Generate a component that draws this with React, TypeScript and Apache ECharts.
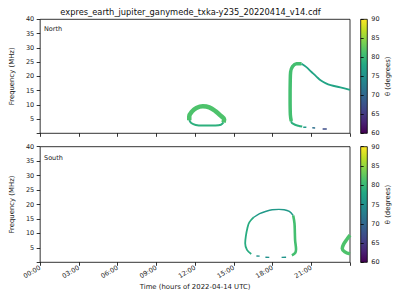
import React, { useEffect, useRef } from 'react';
import * as echarts from 'echarts';

const TITLE = 'expres_earth_jupiter_ganymede_txka-y235_20220414_v14.cdf';
const timeTickLabels = ['00:00', '03:00', '06:00', '09:00', '12:00', '15:00', '18:00', '21:00'];
const panelNames = ['North', 'South'];
const thetaMin = 60;
const thetaMax = 90;

// ---- North panel: [hour, MHz] ----
const northLoopUpper = [[11.55, 4.6], [11.55, 6.0], [11.75, 7.6], [12.1, 8.9], [12.6, 9.5], [13.1, 9.1], [13.6, 7.7], [14.0, 6.1], [14.25, 4.9], [14.2, 3.8]];
const northLoopLower = [[14.2, 3.8], [14.0, 3.0], [13.5, 2.75], [12.6, 2.7], [12.05, 2.9], [11.7, 3.6], [11.55, 4.6]];
const northArcRise = [[19.45, 4.3], [19.38, 6.5], [19.36, 12], [19.37, 18], [19.4, 21.5], [19.55, 23.4], [19.85, 24.4], [20.25, 24.4]];
const northArcFall = [[20.25, 24.4], [20.6, 23.3], [21.0, 21.6], [21.4, 19.9], [21.75, 18.5], [22.1, 17.6], [22.5, 16.9], [23.25, 16.1], [24.0, 15.2]];
const northArcFoot = [[19.45, 4.3], [19.5, 3.6], [19.75, 3.0], [20.0, 2.65], [20.3, 2.35]];
const northDashA = [[20.38, 2.15], [20.62, 2.1]];
const northDashB = [[21.08, 1.95], [21.3, 1.9]];
const northDashC = [[21.88, 1.5], [22.2, 1.5]];
const northTheta = [81.5, 79, 81, 77.5, 79, 76, 71, 67];

// ---- South panel: [hour, MHz] ----
const southLoopLeft = [[16.35, 2.9], [16.02, 4.3], [15.88, 6.6], [15.93, 9.0], [16.05, 11.8], [16.2, 13.8], [16.55, 15.6]];
const southLoopTop = [[16.55, 15.6], [17.0, 16.8], [17.4, 17.5], [17.97, 18.2], [18.5, 18.3], [18.9, 18.2], [19.3, 17.6], [19.6, 16.2]];
const southLoopRight = [[19.6, 16.2], [19.7, 13.5], [19.73, 10], [19.75, 7.5], [19.82, 4.5], [19.75, 3.2], [19.5, 2.4]];
const southDashA = [[16.75, 2.2], [17.0, 2.15]];
const southDashB = [[17.45, 1.75], [17.75, 1.7]];
const southDashC = [[18.7, 1.7], [19.05, 1.75]];
const southWedge = [[24.0, 9.4], [23.75, 7.9], [23.5, 6.2], [23.4, 4.8], [23.6, 3.6], [24.0, 2.9]];
const southTheta = [78.5, 76, 81, 75, 75, 75.5, 81.5];

const VIRIDIS = ['#440154', '#482475', '#414487', '#355f8d', '#2a788e', '#21918c', '#22a884', '#44bf70', '#7ad151', '#bddf26', '#fde725'];

function hexToRgb(h: string) {
  const n = parseInt(h.slice(1), 16);
  return [(n >> 16) & 255, (n >> 8) & 255, n & 255];
}
function viridis(v: number) {
  let t = (v - thetaMin) / (thetaMax - thetaMin);
  t = Math.max(0, Math.min(1, t));
  const p = t * (VIRIDIS.length - 1);
  const i = Math.min(VIRIDIS.length - 2, Math.floor(p));
  const f = p - i;
  const a = hexToRgb(VIRIDIS[i]);
  const b = hexToRgb(VIRIDIS[i + 1]);
  const c = a.map((x, k) => Math.round(x + (b[k] - x) * f));
  return `rgb(${c[0]},${c[1]},${c[2]})`;
}

const FONT = 'DejaVu Sans';
const TXT = '#222';

export default function App() {
  const ref = useRef<HTMLDivElement>(null);
  useEffect(() => {
    if (!ref.current) return;
    const chart = echarts.init(ref.current, undefined, { renderer: 'svg' });

    const northSegs = [northLoopUpper, northLoopLower, northArcRise, northArcFall, northArcFoot, northDashA, northDashB, northDashC];
    const northWidths = [4.5, 2, 3.5, 1.8, 2, 1.5, 1.5, 1.5];
    const southSegs = [southLoopLeft, southLoopTop, southLoopRight, southDashA, southDashB, southDashC, southWedge];
    const southWidths = [1.8, 1.4, 2.6, 1.4, 1.4, 1.4, 3.5];

    const mk = (data: number[][], theta: number, width: number, panel: number, smooth: number) => ({
      type: 'line',
      xAxisIndex: panel,
      yAxisIndex: panel,
      data,
      showSymbol: false,
      smooth,
      silent: true,
      lineStyle: { color: viridis(theta), width, cap: 'butt', join: 'round' },
    });

    const series: any[] = [];
    northSegs.forEach((d, i) => series.push(mk(d, northTheta[i], northWidths[i], 0, d.length > 2 ? 0.35 : 0)));
    southSegs.forEach((d, i) => series.push(mk(d, southTheta[i], southWidths[i], 1, d.length > 2 ? 0.35 : 0)));

    const plotGrids = [
      { left: 31.7, top: 19.3, width: 318.3, height: 114 },
      { left: 31.7, top: 146.7, width: 318.3, height: 115.6 },
    ];
    const cbGrids = [
      { left: 360.7, top: 19.3, width: 6.6, height: 114 },
      { left: 360.7, top: 146.7, width: 6.6, height: 115.6 },
    ];

    const tickStyle = { show: true, inside: false, length: 3.5, lineStyle: { color: '#000', width: 0.8 } };
    const labelFont = { fontFamily: FONT, fontSize: 6.5, color: TXT };

    const xAxes: any[] = plotGrids.map((_, i) => ({
      type: 'value',
      gridIndex: i,
      min: 0,
      max: 24,
      interval: 3,
      axisLine: { show: false },
      axisTick: tickStyle,
      splitLine: { show: false },
      axisLabel: {
        show: i === 1,
        ...labelFont,
        rotate: 30,
        margin: 5,
        formatter: (v: number) => timeTickLabels[Math.round(v / 3)] ?? '',
      },
      name: i === 1 ? 'Time (hours of 2022-04-14 UTC)' : '',
      nameLocation: 'middle',
      nameGap: 21,
      nameTextStyle: { fontFamily: FONT, fontSize: 6.9, color: TXT },
    }));
    cbGrids.forEach((_, i) => xAxes.push({ type: 'value', gridIndex: 2 + i, min: 0, max: 1, show: false }));

    const yAxes: any[] = plotGrids.map((_, i) => ({
      type: 'value',
      gridIndex: i,
      min: 0,
      max: 40,
      interval: 5,
      axisLine: { show: false },
      axisTick: tickStyle,
      splitLine: { show: false },
      axisLabel: { ...labelFont, margin: 6, formatter: (v: number) => (v === 0 ? '' : String(v)) },
      name: 'Frequency (MHz)',
      nameLocation: 'middle',
      nameGap: 18,
      nameRotate: 90,
      nameTextStyle: { fontFamily: FONT, fontSize: 6.9, color: TXT },
    }));
    cbGrids.forEach((_, i) =>
      yAxes.push({
        type: 'value',
        gridIndex: 2 + i,
        position: 'right',
        min: thetaMin,
        max: thetaMax,
        interval: 5,
        axisLine: { show: false },
        axisTick: { show: true, length: 3, lineStyle: { color: '#000', width: 0.8 } },
        splitLine: { show: false },
        axisLabel: { ...labelFont, margin: 4 },
        name: 'θ (degrees)',
        nameLocation: 'middle',
        nameGap: 17,
        nameRotate: 90,
        nameTextStyle: { fontFamily: FONT, fontSize: 6.9, color: TXT },
      })
    );

    const n = VIRIDIS.length - 1;
    const gradStops = VIRIDIS.map((_, i) => ({ offset: i / n, color: VIRIDIS[n - i] }));
    const graphic: any[] = [
      {
        type: 'text',
        x: 190.5,
        y: 11.7,
        style: { text: TITLE, fontFamily: FONT, fontSize: 8.3, fill: '#111', textAlign: 'center', textVerticalAlign: 'middle' },
      },
      ...panelNames.map((nm, i) => ({
        type: 'text',
        x: 44,
        y: i === 0 ? 29.3 : 158.3,
        style: { text: nm, fontFamily: FONT, fontSize: 6.5, fill: TXT, textAlign: 'left', textVerticalAlign: 'middle' },
      })),
      ...cbGrids.map((g) => ({
        type: 'rect',
        shape: { x: g.left, y: g.top, width: g.width, height: g.height },
        style: {
          fill: {
            type: 'linear',
            x: 0,
            y: 0,
            x2: 0,
            y2: 1,
            colorStops: gradStops,
            global: false,
          },
          stroke: '#000',
          lineWidth: 0.8,
        },
        silent: true,
      })),
    ];

    chart.setOption({
      animation: false,
      backgroundColor: '#fff',
      grid: [
        ...plotGrids.map((g) => ({ ...g, show: true, borderColor: '#000', borderWidth: 0.8, backgroundColor: 'transparent' })),
        ...cbGrids,
      ],
      xAxis: xAxes,
      yAxis: yAxes,
      series,
      graphic,
    });
    return () => chart.dispose();
  }, []);
  return <div ref={ref} style={{ width: 400, height: 300, position: 'absolute', left: 0, top: 0 }} />;
}
